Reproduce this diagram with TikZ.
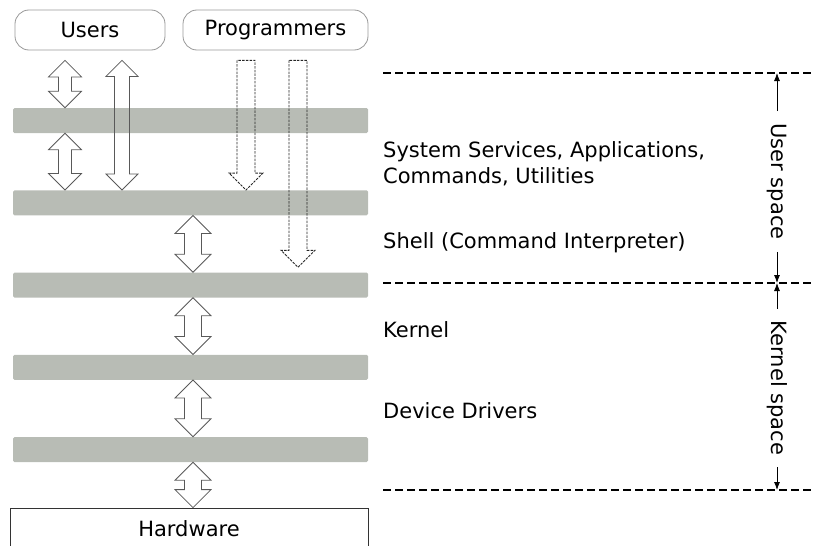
\documentclass[tikz,border=0pt]{standalone}
\usepackage{fontspec}
\setmainfont{DejaVu Sans}
\usetikzlibrary{arrows.meta,calc}
\definecolor{layergray}{RGB}{184,188,181}
\tikzset{
	txt/.style={font=\fontsize{21}{26}\selectfont},
	who/.style={txt, draw=black!40, rounded corners=14pt, minimum height=40, line width=0.8pt},
	layer/.style={fill=layergray, rounded corners=1.5pt, minimum width=355, minimum height=25, inner sep=0},
	blockarr/.style={draw=black!65, line width=0.8pt},
	dasharr/.style={draw=black!85, line width=0.9pt, dash pattern=on 2.5pt off 1.2pt},
	sep/.style={line width=1.4pt, dash pattern=on 8pt off 4pt},
	tip/.style={-{Latex[length=8pt,width=6pt]}, line width=0.8pt}
}
\newcommand{\updown}[5]{\draw[blockarr] let \p1=(#1,0 |- #2), \p2=(#1,0 |- #3) in (\p1) -- ++(#4,#4) -- ++(#5-#4,0) -- ([shift={(#5,-#4)}]\p2) -- ++(#4-#5,0) -- (\p2) -- ++(-#4,-#4) -- ++(#4-#5,0) -- ([shift={(-#5,#4)}]\p1) -- ++(#5-#4,0) -- cycle;}
\newcommand{\downarr}[5]{\draw[dasharr] let \p1=(#1,0 |- #2), \p2=(#1,0 |- #3) in ([shift={(-#5,0)}]\p1) -- ([shift={(-#5,-#4)}]\p2) -- ++(#5-#4,0) -- (\p2) -- ([shift={(#4,-#4)}]\p2) -- ++(#5-#4,0) -- ([shift={(#5,0)}]\p1) -- cycle;}
\begin{document}
\begin{tikzpicture}[x=1pt,y=-1pt]
	\useasboundingbox (0,0) rectangle (815,546);
	\clip (0,0) rectangle (815,546);
	\node[who, minimum width=150] (users) at (90,30) {Users};
	\node[who, minimum width=185] (prog) at (275.5,30) {Programmers};
	\foreach \i in {1,...,5} \node[layer] (l\i) at (190.5,{120.5+82.25*(\i-1)}) {};
	\node[txt, draw=black!80, line width=0.8pt, minimum width=358, minimum height=42, inner sep=0] (hw) at (189,529) {Hardware};
	\coordinate (ubot) at ([yshift=-10pt]users.south);
	\coordinate (pbot) at ([yshift=-10pt]prog.south);
	\coordinate (deep) at ([yshift=5pt]l3.north);
	\updown{65}{ubot}{l1.north}{16.5}{6.5}
	\updown{65}{l1.south}{l2.north}{16.5}{6.5}
	\updown{122}{ubot}{l2.north}{16}{7.5}
	\foreach \a/\b in {l2/l3,l3/l4,l4/l5,l5/hw} {\updown{193}{\a.south}{\b.north}{18}{8.5}}
	\downarr{246}{pbot}{l2.north}{17}{9}
	\downarr{298}{pbot}{deep}{17}{9}
	\node[txt, anchor=north west, align=left, inner sep=0] (svc) at (383,141) {System Services, Applications,\\Commands, Utilities};
	\node[txt, anchor=base west, inner sep=0] (shell) at (383,248) {Shell (Command Interpreter)};
	\node[txt, anchor=base west, inner sep=0] (kern) at (383,337) {Kernel};
	\node[txt, anchor=base west, inner sep=0] (drv) at (383,418) {Device Drivers};
	\foreach \y/\n in {73/s1,283/s2,490/s3} {\coordinate (\n) at (777,\y); \draw[sep] (383,\y) -- (815,\y);}
	\node[txt, rotate=-90, inner sep=12pt] (uspace) at (777,181.5) {User space};
	\node[txt, rotate=-90, inner sep=12pt] (kspace) at (777,388) {Kernel space};
	\draw[tip] (uspace.west) -- (s1);
	\draw[tip] (uspace.east) -- (s2);
	\draw[tip] (kspace.west) -- (s2);
	\draw[tip] (kspace.east) -- (s3);
\end{tikzpicture}
\end{document}
